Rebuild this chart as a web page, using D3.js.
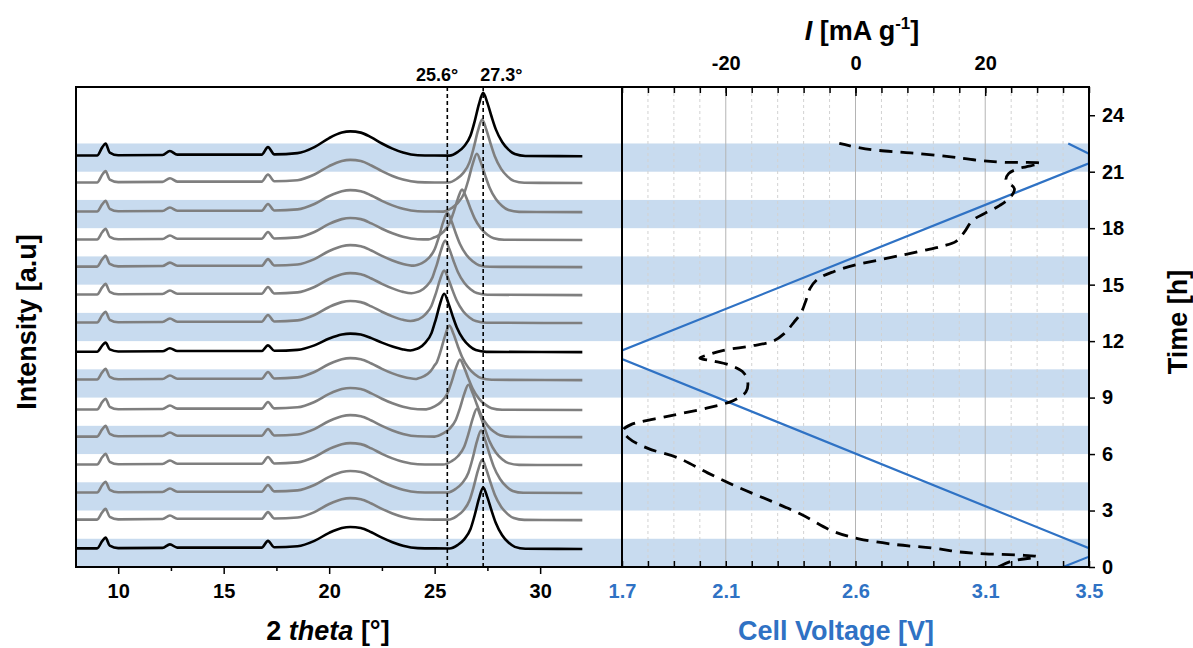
<!DOCTYPE html>
<html>
<head>
<meta charset="utf-8">
<script src="https://cdn.jsdelivr.net/npm/d3@7"></script>
<style>
  html, body { margin: 0; padding: 0; background: #fff; }
  text { font-family: "Liberation Sans", Arial, sans-serif; font-weight: bold; }
</style>
</head>
<body>
<svg id="chart" width="1193" height="648"></svg>
<script>
// ---- data ----
// XRD: shared background profile (2theta, intensity units)
const bgTheta = [8, 9.0, 9.25, 9.4, 9.6, 10.0, 12.1, 12.45, 12.8, 16.8, 17.1, 17.4, 18.5, 19.3, 20.0, 20.6, 21.0, 21.5, 22.0, 22.5, 23.0, 23.5, 24.2, 25.0, 32];
const bgInt   = [0.02, 0.02, 0.3, 0.42, 0.12, 0.03, 0.04, 0.17, 0.05, 0.05, 0.3, 0.06, 0.1, 0.3, 0.6, 0.78, 0.82, 0.78, 0.62, 0.42, 0.25, 0.12, 0.03, 0.02, 0];
// main reflection shape (offset from centre in degrees, relative height)
const peakOffset = [-1.6, -1.2, -0.9, -0.6, -0.4, -0.2, 0, 0.2, 0.4, 0.6, 0.9, 1.2, 1.5, 2.0];
const peakShape  = [0, 0.06, 0.15, 0.32, 0.55, 0.82, 1, 0.84, 0.62, 0.42, 0.22, 0.1, 0.03, 0];
// scans, bottom to top
const scanOffset = [0.64, 1.66, 2.62, 3.61, 4.60, 5.56, 6.62, 7.61, 8.64, 9.63, 10.62, 11.58, 12.57, 13.60, 14.55];
const peakCentre = [27.3, 27.25, 27.2, 27.0, 26.6, 26.2, 25.7, 25.45, 25.45, 25.5, 25.6, 26.3, 27.0, 27.25, 27.3];
const peakHeight = [2.16, 2.12, 2.2, 1.98, 1.84, 1.77, 1.91, 2.05, 1.84, 1.91, 1.91, 1.77, 2.05, 2.23, 2.23];
const bgScale    = [0.95, 0.95, 0.95, 0.95, 0.95, 0.95, 0.95, 0.8, 0.95, 0.95, 0.95, 0.95, 0.95, 1.0, 1.07];
const scanBlack  = [true, false, false, false, false, false, false, true, false, false, false, false, false, false, true];
const refLines = [25.6, 27.3];
const refLabels = ["25.6°", "27.3°"];

// electrochemistry
const timeV   = [0, 0.55, 1.0, 11.05, 11.5, 21.45, 21.95, 22.5];
const voltage = [3.40, 3.5, 3.5, 1.7, 1.7, 3.5, 3.5, 3.42];
const timeI   = [0.0, 0.3, 0.55, 0.62, 0.7, 0.8, 1.0, 1.2, 1.5, 1.9, 2.8, 3.5, 4.25, 5.0, 5.8, 6.3, 6.85, 7.27, 7.55, 8.0, 8.45, 8.85, 9.3, 9.8, 10.3, 10.7, 10.95, 11.1, 11.3, 11.5, 11.75, 12.0, 12.4, 13.0, 13.5, 14.2, 14.8, 15.3, 15.7, 16.05, 16.3, 16.6, 16.85, 17.05, 17.3, 17.8, 18.4, 18.8, 19.2, 19.65, 20.1, 20.55, 20.9, 21.15, 21.45, 21.5, 21.6, 21.8, 22.0, 22.15, 22.3, 22.5];
const current = [22, 24, 28, 26, 20, 16, 12, 6, 0.5, -3.5, -8.4, -13, -18.2, -22.8, -27.4, -32, -35, -35.8, -34.7, -29, -22.8, -18.8, -16.9, -16.6, -17.2, -19.2, -22, -24, -22.5, -20.5, -16, -12.7, -11, -9.5, -8.4, -7.6, -7, -5.8, -3.3, 0, 3.5, 7.6, 11, 13.5, 15.5, 16.8, 18, 20, 22.2, 23.9, 24.5, 23.2, 23.6, 25, 28.5, 23, 19, 14.4, 8.5, 3, 0.2, -2.5];

const bandStart = [0, 3, 6, 9, 12, 15, 18, 21];
const bandLength = 1.5;

const thetaTicks = [10, 15, 20, 25, 30];
const thetaMinor = [12.5, 17.5, 22.5, 27.5];
const voltLabels = [1.7, 2.1, 2.6, 3.1, 3.5];
const currentLabels = [-20, 0, 20];
const timeTicks = [0, 3, 6, 9, 12, 15, 18, 21, 24];

// ---- layout ----
const pLeft = 76, pMid = 622, pRight = 1089, pTop = 87, pBottom = 567;
const blue = "#2f72c4", bandBlue = "#c8dbef";

const svg = d3.select("#chart");

const xTheta = d3.scaleLinear().domain([8, 33.88]).range([pLeft, pMid]);
const xV = d3.scaleLinear().domain([1.7, 3.5]).range([pMid, pRight]);
const xI = d3.scaleLinear().domain([-36, 36]).range([pMid, pRight]);
const yT = d3.scaleLinear().domain([0, 25.5]).range([pBottom, pTop]);
const yInt = d3.scaleLinear().domain([0, 17]).range([pBottom, pTop]);

svg.append("defs").append("clipPath").attr("id", "clipR")
  .append("rect").attr("x", pMid).attr("y", pTop).attr("width", pRight - pMid).attr("height", pBottom - pTop);

// bands
svg.append("g").selectAll("rect").data(bandStart).join("rect")
  .attr("x", pLeft).attr("width", pRight - pLeft)
  .attr("y", d => yT(d + bandLength)).attr("height", d => yT(d) - yT(d + bandLength))
  .attr("fill", bandBlue);

// grid (right panel)
const gridVals = d3.range(-32, 36, 4);
svg.append("g").selectAll("line").data(gridVals).join("line")
  .attr("x1", d => xI(d)).attr("x2", d => xI(d)).attr("y1", pTop).attr("y2", pBottom)
  .attr("stroke", d => currentLabels.includes(d) ? "#b4b4b4" : "#d2d2d2")
  .attr("stroke-width", 1)
  .attr("stroke-dasharray", d => currentLabels.includes(d) ? null : "3,3");

// XRD traces
const bgAt = d3.scaleLinear().domain(bgTheta).range(bgInt).clamp(true);
const shapeAt = d3.scaleLinear().domain(peakOffset).range(peakShape).clamp(true);
const line = d3.line().x(d => xTheta(d[0])).y(d => yInt(d[1])).curve(d3.curveMonotoneX);

const traces = scanOffset.map((off, i) => {
  const xs = Array.from(new Set(bgTheta.concat(peakOffset.map(o => peakCentre[i] + o))))
    .filter(x => x >= 8 && x <= 32).sort((a, b) => a - b);
  return {
    black: scanBlack[i],
    pts: xs.map(x => [x, off + bgScale[i] * bgAt(x) + peakHeight[i] * shapeAt(x - peakCentre[i])])
  };
});
const gT = svg.append("g");
gT.selectAll("path").data(traces.filter(d => !d.black).concat(traces.filter(d => d.black))).join("path")
  .attr("d", d => line(d.pts))
  .attr("fill", "none")
  .attr("stroke", d => d.black ? "#000" : "#7f7f7f")
  .attr("stroke-width", 2.6)
  .attr("stroke-linejoin", "round");

// reference lines
svg.append("g").selectAll("line").data(refLines).join("line")
  .attr("x1", d => xTheta(d)).attr("x2", d => xTheta(d)).attr("y1", pTop).attr("y2", pBottom)
  .attr("stroke", "#000").attr("stroke-width", 1.6).attr("stroke-dasharray", "4,3");
svg.append("g").selectAll("text").data(refLines).join("text")
  .attr("x", (d, i) => i === 0 ? xTheta(d) + 11 : xTheta(d) - 3)
  .attr("y", 81)
  .attr("text-anchor", (d, i) => i === 0 ? "end" : "start")
  .attr("font-size", 18)
  .text((d, i) => refLabels[i]);

// right panel curves
const gR = svg.append("g").attr("clip-path", "url(#clipR)");
gR.append("path")
  .datum(timeV.map((t, i) => [voltage[i], t]))
  .attr("d", d3.line().x(d => xV(d[0])).y(d => yT(d[1])))
  .attr("fill", "none").attr("stroke", blue).attr("stroke-width", 2.2);
gR.append("path")
  .datum(timeI.map((t, i) => [current[i], t]))
  .attr("d", d3.line().x(d => xI(d[0])).y(d => yT(d[1])).curve(d3.curveCatmullRom))
  .attr("fill", "none").attr("stroke", "#000").attr("stroke-width", 2.8)
  .attr("stroke-dasharray", "13,8");

// frame
const frame = svg.append("g").attr("stroke", "#000").attr("stroke-width", 2).attr("fill", "none");
frame.append("rect").attr("x", pLeft).attr("y", pTop).attr("width", pRight - pLeft).attr("height", pBottom - pTop);
frame.append("line").attr("x1", pMid).attr("x2", pMid).attr("y1", pTop).attr("y2", pBottom);

function styleAxis(g, color) {
  g.select(".domain").remove();
  g.selectAll(".tick line").attr("stroke", "#000").attr("stroke-width", 1.5);
  g.selectAll("text").attr("font-size", 20).attr("fill", color || "#000")
    .attr("font-family", "'Liberation Sans', Arial, sans-serif").attr("font-weight", "bold");
}
const hyphen = d => String(d).replace("\u2212", "-");

// bottom left (2 theta)
svg.append("g").attr("transform", `translate(0,${pBottom})`)
  .call(d3.axisBottom(xTheta).tickValues(thetaTicks).tickSize(7).tickPadding(10))
  .call(g => styleAxis(g));
svg.append("g").attr("transform", `translate(0,${pBottom})`)
  .call(d3.axisBottom(xTheta).tickValues(thetaMinor).tickSize(4).tickFormat(""))
  .call(g => styleAxis(g));

// bottom right (voltage), inward ticks
svg.append("g").attr("transform", `translate(0,${pBottom})`)
  .call(d3.axisBottom(xV).tickValues(d3.range(1.7, 3.51, 0.1)).tickSize(-6).tickFormat(""))
  .call(g => styleAxis(g));
svg.append("g").attr("transform", `translate(0,${pBottom})`)
  .call(d3.axisBottom(xV).tickValues(voltLabels).tickSize(0).tickPadding(17).tickFormat(d3.format(".1f")))
  .call(g => styleAxis(g, blue));

// top (current), inward ticks
svg.append("g").attr("transform", `translate(0,${pTop})`)
  .call(d3.axisTop(xI).tickValues(d3.range(-36, 37, 4)).tickSize(-6).tickFormat(""))
  .call(g => styleAxis(g));
svg.append("g").attr("transform", `translate(0,${pTop})`)
  .call(d3.axisTop(xI).tickValues(currentLabels).tickSize(-9).tickPadding(17).tickFormat(d => String(d)))
  .call(g => styleAxis(g));

// right (time)
svg.append("g").attr("transform", `translate(${pRight},0)`)
  .call(d3.axisRight(yT).tickValues(timeTicks).tickSize(6).tickPadding(7))
  .call(g => styleAxis(g));

// titles
svg.append("text").attr("x", 328).attr("y", 640).attr("text-anchor", "middle").attr("font-size", 27)
  .call(t => {
    t.append("tspan").text("2 ");
    t.append("tspan").attr("font-style", "italic").text("theta");
    t.append("tspan").text(" [°]");
  });
svg.append("text").attr("x", 836).attr("y", 640).attr("text-anchor", "middle").attr("font-size", 27)
  .attr("fill", blue).text("Cell Voltage [V]");
svg.append("text").attr("x", 862).attr("y", 40).attr("text-anchor", "middle").attr("font-size", 27)
  .call(t => {
    t.append("tspan").attr("font-style", "italic").text("I");
    t.append("tspan").text(" [mA g");
    t.append("tspan").attr("font-size", 17).attr("dy", -11).text("-1");
    t.append("tspan").attr("dy", 11).text("]");
  });
svg.append("text").attr("transform", "translate(36,322) rotate(-90)").attr("text-anchor", "middle")
  .attr("font-size", 27).text("Intensity [a.u]");
svg.append("text").attr("transform", "translate(1187,322) rotate(-90)").attr("text-anchor", "middle")
  .attr("font-size", 27).text("Time [h]");
</script>
</body>
</html>
